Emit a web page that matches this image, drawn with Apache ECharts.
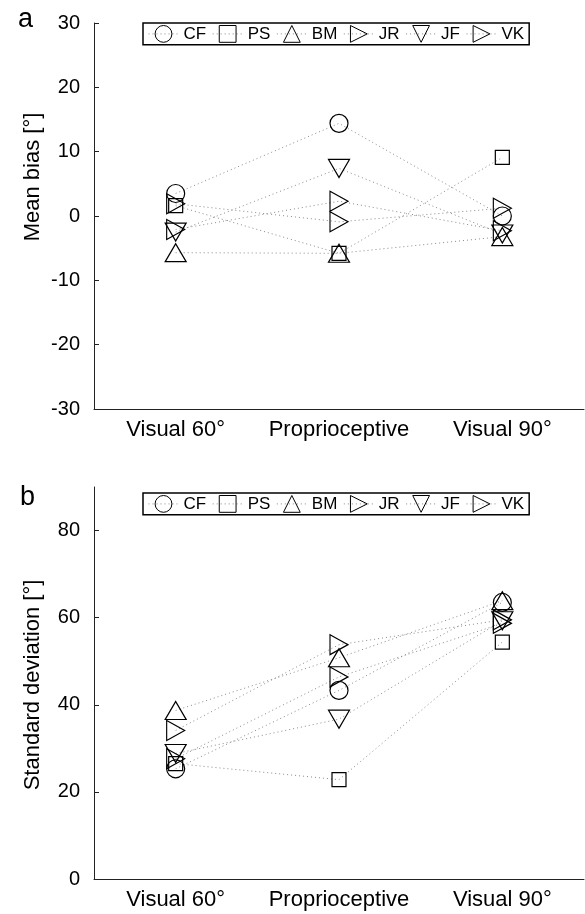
<!DOCTYPE html>
<html>
<head>
<meta charset="utf-8">
<script src="https://cdn.jsdelivr.net/npm/echarts@6/dist/echarts.min.js"></script>
<style>
  html, body { margin: 0; padding: 0; background: #fff; }
  #chart { width: 585px; height: 914px; }
</style>
</head>
<body>
<div id="chart"></div>
<script>
  "use strict";
  // conditions on the x axis
  var conditions = ["Visual 60°", "Proprioceptive", "Visual 90°"];
  var subjects = ["CF", "PS", "BM", "JR", "JF", "VK"];

  // panel a: mean bias [deg], one value per condition
  var biasCF = [3.5, 14.4, 0.0];
  var biasPS = [1.6, -5.8, 9.1];
  var biasBM = [-5.7, -5.8, -3.2];
  var biasJR = [1.9, -0.9, 1.2];
  var biasJF = [-2.5, 7.4, -2.8];
  var biasVK = [-2.1, 2.3, -2.3];

  // panel b: standard deviation [deg]
  var sdCF = [25.3, 43.3, 63.5];
  var sdPS = [26.5, 22.8, 54.4];
  var sdBM = [38.7, 50.8, 63.9];
  var sdJR = [34.1, 53.8, 59.5];
  var sdJF = [28.8, 36.7, 59.3];
  var sdVK = [27.6, 46.4, 58.7];

  var biasTicks = [-30, -20, -10, 0, 10, 20, 30];
  var sdTicks = [0, 20, 40, 60, 80];

  var FONT = "Liberation Sans, Arial, sans-serif";

  // marker per subject: symbol, size, rotation
  var markers = {
    CF: { symbol: "circle", size: 18, rotate: 0 },
    PS: { symbol: "rect", size: 14, rotate: 0 },
    BM: { symbol: "triangle", size: [21, 18], rotate: 0 },
    JR: { symbol: "triangle", size: [20, 18], rotate: -90 },
    JF: { symbol: "triangle", size: [21, 18], rotate: 180 },
    VK: { symbol: "triangle", size: [20, 18], rotate: -90 }
  };

  function makeSeries(name, values, idx) {
    var m = markers[name];
    return {
      name: name,
      type: "line",
      xAxisIndex: idx,
      yAxisIndex: idx,
      data: values,
      symbol: m.symbol,
      symbolSize: m.size,
      symbolRotate: m.rotate,
      showAllSymbol: true,
      animation: false,
      itemStyle: { color: "rgba(0,0,0,0)", borderColor: "#000", borderWidth: 1.2 },
      lineStyle: { color: "#8a8a8a", width: 1, type: [1, 3] },
      emphasis: { disabled: true },
      z: 3
    };
  }

  function legendAt(top) {
    return {
      data: subjects,
      left: 143,
      top: top,
      orient: "horizontal",
      padding: [2, 5],
      borderColor: "#000",
      borderWidth: 1.5,
      itemWidth: 30,
      itemHeight: 21,
      itemGap: 6,
      selectedMode: false,
      itemStyle: { borderWidth: 1, borderColor: "#000", color: "rgba(0,0,0,0)" },
      lineStyle: { color: "#8a8a8a", width: 1, type: [1, 3] },
      textStyle: { fontFamily: FONT, fontSize: 17, color: "#000" }
    };
  }

  function xAxisFor(idx) {
    return {
      type: "category",
      gridIndex: idx,
      data: conditions,
      boundaryGap: true,
      axisLine: { onZero: false, lineStyle: { color: "#222", width: 1 } },
      axisTick: { inside: true, length: 4, alignWithLabel: true, lineStyle: { color: "#222" } },
      axisLabel: { interval: 0, fontFamily: FONT, fontSize: 22, color: "#000", margin: 10 },
      splitLine: { show: false }
    };
  }

  var chart = echarts.init(document.getElementById("chart"), null, { renderer: "canvas" });

  var series = [];
  var biasData = [biasCF, biasPS, biasBM, biasJR, biasJF, biasVK];
  var sdData = [sdCF, sdPS, sdBM, sdJR, sdJF, sdVK];
  for (var i = 0; i < subjects.length; i++) {
    series.push(makeSeries(subjects[i], biasData[i], 0));
  }
  for (var j = 0; j < subjects.length; j++) {
    series.push(makeSeries(subjects[j], sdData[j], 1));
  }

  var option = {
    backgroundColor: "#fff",
    animation: false,
    grid: [
      { left: 94, right: 1, top: 23, height: 386 },
      { left: 94, right: 1, top: 487, height: 392 }
    ],
    legend: [legendAt(23), legendAt(493)],
    xAxis: [xAxisFor(0), xAxisFor(1)],
    yAxis: [
      {
        type: "value",
        gridIndex: 0,
        min: biasTicks[0],
        max: biasTicks[biasTicks.length - 1],
        interval: 10,
        axisLine: { show: true, onZero: false, lineStyle: { color: "#222", width: 1 } },
        axisTick: { show: true, inside: true, length: 5, lineStyle: { color: "#222" } },
        axisLabel: { fontFamily: FONT, fontSize: 20, color: "#000", margin: 14 },
        splitLine: { show: false }
      },
      {
        type: "value",
        gridIndex: 1,
        min: 0,
        max: 90,
        interval: 20,
        axisLine: { show: true, onZero: false, lineStyle: { color: "#222", width: 1 } },
        axisTick: { show: true, inside: true, length: 5, customValues: sdTicks, lineStyle: { color: "#222" } },
        axisLabel: { fontFamily: FONT, fontSize: 20, color: "#000", margin: 14, customValues: sdTicks },
        splitLine: { show: false }
      }
    ],
    graphic: [
      { type: "text", left: 18, top: 6, style: { text: "a", fontFamily: FONT, fontSize: 27, fill: "#000" } },
      { type: "text", left: 20, top: 484, style: { text: "b", fontFamily: FONT, fontSize: 27, fill: "#000" } },
      {
        type: "text", x: 33, y: 177, rotation: Math.PI / 2,
        style: { text: "Mean bias [°]", fontFamily: FONT, fontSize: 22, fill: "#000", align: "center", verticalAlign: "middle" }
      },
      {
        type: "text", x: 33, y: 685, rotation: Math.PI / 2,
        style: { text: "Standard deviation [°]", fontFamily: FONT, fontSize: 22, fill: "#000", align: "center", verticalAlign: "middle" }
      }
    ],
    series: series
  };

  chart.setOption(option);
</script>
</body>
</html>
